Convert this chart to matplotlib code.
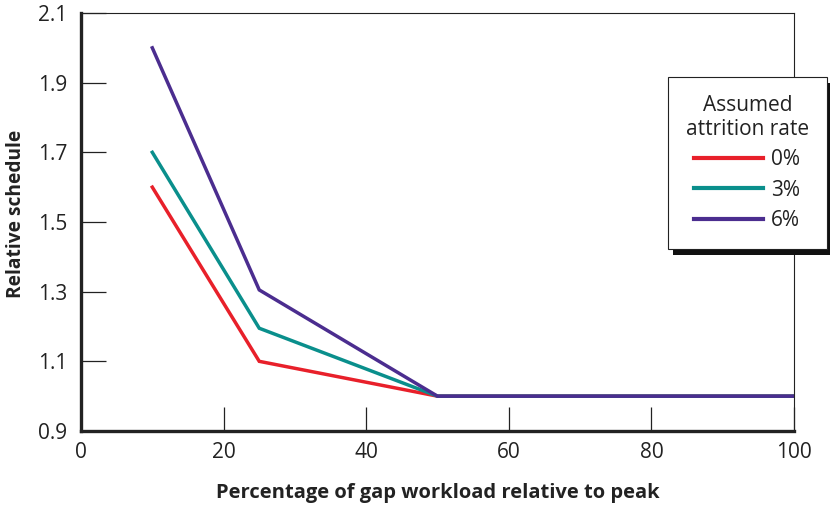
import matplotlib
matplotlib.use("Agg")
import matplotlib.pyplot as plt
from matplotlib.patches import Rectangle

plt.rcParams['font.family'] = ['Open Sans', 'DejaVu Sans']

x = [10, 25, 50, 100]
rate_labels = ['0%', '3%', '6%']
rate_0 = [1.6, 1.1, 1.0, 1.0]
rate_3 = [1.7, 1.195, 1.0, 1.0]
rate_6 = [2.0, 1.305, 1.0, 1.0]
colors = ['#e8202a', '#0a8f8c', '#4b2d8f']
xticks = [0, 20, 40, 60, 80, 100]
yticks = [0.9, 1.1, 1.3, 1.5, 1.7, 1.9, 2.1]

fig = plt.figure(figsize=(8.3, 5.08), dpi=100)
ax = fig.add_axes([81/830, 1-431/508, (794-81)/830, (431-13)/508])

for ys, c, lab in zip([rate_0, rate_3, rate_6], colors, rate_labels):
    ax.plot(x, ys, color=c, lw=2.5, label=lab, solid_joinstyle='miter')

ax.set_xlim(0, 100)
ax.set_ylim(0.9, 2.1)
ax.set_xticks(xticks)
ax.set_yticks(yticks)
ax.set_yticklabels([f'{v:.1f}' for v in yticks])
ax.tick_params(axis='both', direction='in', length=17, width=0.9, color='#222222',
               labelsize=15, labelcolor='#222222', pad=8)
ax.tick_params(axis='y', length=18, pad=10)
for s in ['left', 'bottom']:
    ax.spines[s].set_linewidth(2.4)
    ax.spines[s].set_color('#222222')
for s in ['top', 'right']:
    ax.spines[s].set_linewidth(0.8)
    ax.spines[s].set_color('#222222')

ax.set_xlabel('Percentage of gap workload relative to peak', fontsize=14.5,
              fontweight='bold', color='#222222', labelpad=14)
fig.text(16/830, 1-214/508, 'Relative schedule', rotation=90, fontsize=13.8,
         fontweight='bold', color='#222222', ha='center', va='center')

leg = fig.legend(loc='upper left', bbox_to_anchor=(668/830, 1-77/508),
                 borderaxespad=0,
                 title='Assumed\nattrition rate', fontsize=15, title_fontsize=15,
                 frameon=True, fancybox=False, edgecolor='#222222',
                 facecolor='white', framealpha=1,
                 handlelength=3.3, handletextpad=0.4, borderpad=0.85,
                 labelspacing=0.45, alignment='center')
leg.get_frame().set_linewidth(0.8)
leg.get_title().set_multialignment('center')
leg.get_title().set_color('#222222')
for t in leg.get_texts():
    t.set_color('#222222')
for h in leg.legend_handles:
    h.set_linewidth(3.0)
leg.set_zorder(5)

fig.canvas.draw()
bb = leg.get_window_extent().transformed(fig.transFigure.inverted())
shadow = Rectangle((bb.x0 + 5/830, bb.y0 - 6/508), bb.width, bb.height,
                   transform=fig.transFigure, facecolor='#111111',
                   edgecolor='none', zorder=4)
fig.add_artist(shadow)

fig.savefig('out.png', dpi=100)
